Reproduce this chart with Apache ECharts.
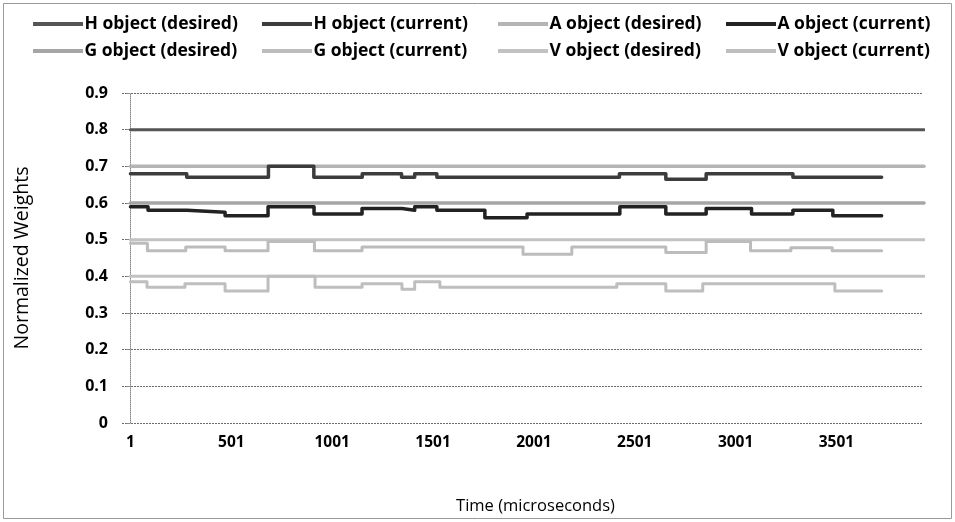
<!DOCTYPE html>
<html>
<head>
<meta charset="utf-8">
<script src="https://cdn.jsdelivr.net/npm/echarts@6/dist/echarts.min.js"></script>
<style>
  html, body { margin: 0; padding: 0; background: #fff; }
  #chart { width: 955px; height: 522px; }
</style>
</head>
<body>
<div id="chart"></div>
<script>
// x tick labels (time in microseconds)
var timeLabels = [1, 501, 1001, 1501, 2001, 2501, 3001, 3501];

// desired weights (constant over the run)
var desiredTimes = [1, 3935];
var hDesired = 0.8;
var aDesired = 0.7;
var gDesired = 0.6;
var vDesired = 0.5;
var extraDesired = 0.4;

// current weights: value holds from each time until the next one
var hTimes = [1, 280, 685, 910, 1150, 1345, 1410, 1520, 2425, 2655, 2855, 3285, 3725];
var hVals  = [0.68, 0.67, 0.70, 0.67, 0.68, 0.67, 0.68, 0.67, 0.68, 0.665, 0.68, 0.67, 0.67];

var aTimes = [1, 88, 281, 470, 683, 911, 1149, 1347, 1410, 1520, 1758, 1967, 2427, 2655, 2855, 3080, 3285, 3483, 3725];
var aVals  = [0.59, 0.58, 0.575, 0.565, 0.59, 0.57, 0.585, 0.58, 0.59, 0.58, 0.56, 0.57, 0.59, 0.57, 0.585, 0.57, 0.58, 0.565, 0.565];

var gTimes = [1, 85, 275, 470, 683, 913, 1149, 1947, 2189, 2655, 2855, 3075, 3275, 3480, 3725];
var gVals  = [0.49, 0.47, 0.48, 0.47, 0.495, 0.47, 0.48, 0.46, 0.48, 0.465, 0.495, 0.47, 0.478, 0.47, 0.47];

var vTimes = [1, 83, 271, 470, 683, 916, 1149, 1347, 1410, 1535, 2412, 2655, 2838, 3493, 3725];
var vVals  = [0.385, 0.37, 0.38, 0.36, 0.40, 0.37, 0.38, 0.365, 0.385, 0.37, 0.38, 0.36, 0.38, 0.36, 0.36];

function pairs(times, vals) {
  return times.map(function (t, i) { return [t, vals[i]]; });
}
function flat(v) {
  return desiredTimes.map(function (t) { return [t, v]; });
}

var FONT = '"Open Sans", "Noto Sans", sans-serif';

function lineSeries(name, data, color, width) {
  return {
    name: name,
    type: 'line',
    step: 'end',
    data: data,
    symbol: 'none',
    silent: true,
    lineStyle: { color: color, width: width, join: 'round', cap: 'round' },
    itemStyle: { color: color }
  };
}

function legendCol(left, names) {
  return {
    orient: 'vertical',
    left: left,
    top: 10,
    itemGap: 9,
    itemWidth: 51,
    itemHeight: 4,
    icon: 'path://M0,0 L50,0 L50,4 L0,4 Z',
    data: names,
    selectedMode: false,
    textStyle: { fontFamily: FONT, fontWeight: 'bold', fontSize: 17.5, color: '#000', padding: [0, 0, 0, -4] }
  };
}

var chart = echarts.init(document.getElementById('chart'));
chart.setOption({
  animation: false,
  backgroundColor: '#fff',
  graphic: [{
    type: 'rect',
    shape: { x: 3.5, y: 3.5, width: 948, height: 515 },
    style: { fill: 'none', stroke: '#9a9a9a', lineWidth: 1 }
  }],
  legend: [
    legendCol(28, ['H object (desired)', 'G object (desired)']),
    legendCol(257, ['H object (current)', 'G object (current)']),
    legendCol(493, ['A object (desired)', 'V object (desired)']),
    legendCol(721, ['A object (current)', 'V object (current)'])
  ],
  grid: { left: 122, right: 32, top: 93, bottom: 99 },
  xAxis: {
    type: 'value',
    min: -41,
    max: 3930,
    name: 'Time (microseconds)',
    nameLocation: 'middle',
    nameGap: 75,
    nameTextStyle: { fontFamily: FONT, fontSize: 16.5, color: '#000', padding: [0, 0, 0, 26] },
    axisLine: { show: false },
    axisTick: { show: false },
    splitLine: { show: false },
    axisLabel: {
      customValues: timeLabels,
      fontFamily: FONT, fontWeight: 'bold', fontSize: 15.5, color: '#000', margin: 12,
      formatter: function (v) { return String(v); }
    }
  },
  yAxis: {
    type: 'value',
    min: 0,
    max: 0.9,
    interval: 0.1,
    name: 'Normalized Weights',
    nameLocation: 'middle',
    nameGap: 90,
    nameTextStyle: { fontFamily: FONT, fontSize: 19.5, color: '#000' },
    axisLine: { show: true, lineStyle: { color: '#8a8a8a', width: 1, type: [1, 1] } },
    axisTick: { show: true, length: 4, lineStyle: { color: '#8a8a8a' } },
    splitLine: { show: true, lineStyle: { color: '#6a6a6a', width: 1, type: [2, 1] } },
    axisLabel: {
      fontFamily: FONT, fontWeight: 'bold', fontSize: 16, color: '#000', margin: 14,
      formatter: function (v) { return v === 0 ? '0' : v.toFixed(1); }
    }
  },
  series: [
    lineSeries('H object (desired)', flat(hDesired), '#555555', 3),
    lineSeries('A object (desired)', flat(aDesired), '#b4b4b4', 3.5),
    lineSeries('G object (desired)', flat(gDesired), '#a6a6a6', 3.5),
    lineSeries('V object (desired)', flat(vDesired), '#c2c2c2', 3),
    lineSeries('Reference (desired)', flat(extraDesired), '#c2c2c2', 3),
    lineSeries('G object (current)', pairs(gTimes, gVals), '#bcbcbc', 3),
    lineSeries('V object (current)', pairs(vTimes, vVals), '#bebebe', 3),
    lineSeries('H object (current)', pairs(hTimes, hVals), '#3c3c3c', 3.5),
    lineSeries('A object (current)', pairs(aTimes, aVals), '#222222', 3.5)
  ]
});
</script>
</body>
</html>
